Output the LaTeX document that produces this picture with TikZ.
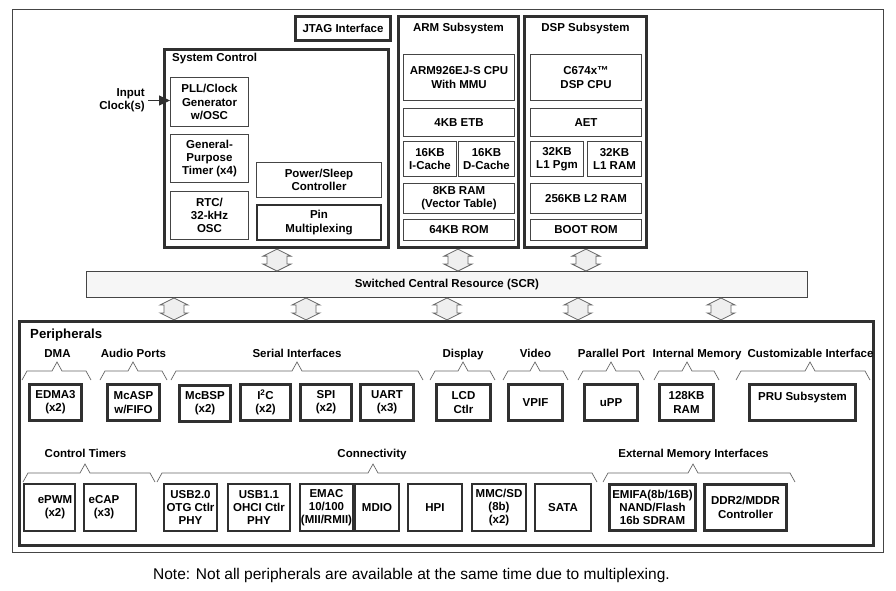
\documentclass[tikz,border=0pt]{standalone}
\usepackage{fontspec}
\setmainfont{Liberation Sans}
\usetikzlibrary{arrows.meta,calc}
\definecolor{edge}{HTML}{303030}
\definecolor{busfill}{HTML}{EFEFEF}
\definecolor{scrfill}{HTML}{F6F6F6}
\newcommand{\busarrow}[3]{%
  \path (#1,0 |- #2.south) coordinate (bt) (#1,0 |- #3.north) coordinate (bb);
  \draw[busarr] (bt) -- ++(14,7) -- ++(-4,0) -- ($(bb)+(10,-7)$) -- ++(4,0) -- (bb)
    -- ++(-14,-7) -- ++(4,0) -- ($(bt)+(-10,7)$) -- ++(-4,0) -- cycle;}
\newcommand{\grpbrace}[4]{%
  \draw[brace] (#1,#4+9) -- (#1+5,#4) -- (#2-5,#4) -- (#2,#4-9) -- (#2+5,#4) -- (#3-5,#4) -- (#3,#4+9);}
\begin{document}
\begin{tikzpicture}[x=1pt,y=-1pt,
  every node/.style={font=\fontsize{11.5}{13.3}\selectfont\bfseries, inner sep=0pt, align=center},
  blk/.style={draw=edge!90, line width=0.9pt},
  mblk/.style={draw=edge, line width=2pt},
  hblk/.style={draw=edge, line width=2.6pt},
  grp/.style={draw=edge, line width=3.2pt},
  lbl/.style={anchor=base},
  busarr/.style={draw=black!60, fill=busfill, line width=0.8pt},
  brace/.style={draw=black!60, line width=0.7pt}]
\useasboundingbox (0,0) rectangle (896,590);
\node[blk, minimum width=871, minimum height=543] (frame) at (448,281){};

\node[grp, minimum width=95, minimum height=24] (jtag) at (343,28.5){JTAG Interface};

\node[grp, minimum width=224, minimum height=198] (sysctl) at (276.5,148.5){};
\node[anchor=base west] (sysctlt) at (172,61.5){System Control};
\node[blk, minimum width=78, minimum height=49] (pll) at (209.5,102){PLL/Clock\\Generator\\w/OSC};
\node[blk, minimum width=78, minimum height=48] (gpt) at (209.5,158.5){General-\\Purpose\\Timer (x4)};
\node[blk, minimum width=78, minimum height=48] (rtc) at (209.5,215.5){RTC/\\32-kHz\\OSC};
\node[blk, minimum width=125, minimum height=35] (psc) at (319,180){Power/Sleep\\Controller};
\node[mblk, minimum width=124, minimum height=35] (pinmux) at (319,222.5){Pin\\Multiplexing};
\node[anchor=east, align=right] (clk) at (145,100.5){Input\\Clock(s)};
\draw[edge, line width=1pt, -{Triangle[length=11pt,width=10pt]}, shorten <=3pt] (clk.east) -- (clk.east -| pll.west);

\node[grp, minimum width=120, minimum height=231] (arm) at (458.5,132){};
\node[lbl] (armt) at (458.5,31.5){ARM Subsystem};
\node[blk, minimum width=111, minimum height=46] (armcpu) at (459,77.5){ARM926EJ-S CPU\\With MMU};
\node[blk, minimum width=111, minimum height=28] (etb) at (459,122.5){4KB ETB};
\node[blk, minimum width=53, minimum height=35] (icache) at (430,159){16KB\\I-Cache};
\node[blk, minimum width=56, minimum height=35] (dcache) at (486.5,159){16KB\\D-Cache};
\node[blk, minimum width=111, minimum height=30] (vram) at (459,198.5){8KB RAM\\(Vector Table)};
\node[blk, minimum width=111, minimum height=21] (arom) at (459,230){64KB ROM};

\node[grp, minimum width=122, minimum height=231] (dsp) at (585.5,132){};
\node[lbl] (dspt) at (585.5,31.5){DSP Subsystem};
\node[blk, minimum width=111, minimum height=46] (dspcpu) at (586,77.5){C674x™\\DSP CPU};
\node[blk, minimum width=111, minimum height=28] (aet) at (586,122.5){AET};
\node[blk, minimum width=53, minimum height=35] (lpgm) at (557,159){32KB\\L1 Pgm};
\node[blk, minimum width=54, minimum height=35] (lram) at (614.5,159){32KB\\L1 RAM};
\node[blk, minimum width=111, minimum height=30] (ltwo) at (586,198.5){256KB L2 RAM};
\node[blk, minimum width=111, minimum height=21] (brom) at (586,230){BOOT ROM};

\node[blk, fill=scrfill, minimum width=721, minimum height=26] (scr) at (447,284.5){Switched Central Resource (SCR)};

\node[grp, minimum width=854, minimum height=224] (periph) at (446.5,433.5){};
\node[anchor=base west, font=\fontsize{13.2}{15}\selectfont\bfseries] (periphl) at (30,338.5){Peripherals};

\busarrow{277}{sysctl}{scr}
\busarrow{458}{arm}{scr}
\busarrow{586}{dsp}{scr}
\foreach \x in {174,306,447,578,721}
  \busarrow{\x}{scr}{periph};

\node[lbl] (dmal) at (57.5,357.5){DMA};
\node[lbl] (audl) at (133.5,357.5){Audio Ports};
\node[lbl] (serl) at (297,357.5){Serial Interfaces};
\node[lbl] (displ) at (463,357.5){Display};
\node[lbl] (vidl) at (535.5,357.5){Video};
\node[lbl] (parl) at (611.5,357.5){Parallel Port};
\node[lbl] (meml) at (697,357.5){Internal Memory};
\node[lbl] (cusl) at (810.5,357.5){Customizable Interface};
\grpbrace{22}{57}{91}{371}
\grpbrace{100}{133}{167}{371}
\grpbrace{171}{297}{423}{371}
\grpbrace{430}{463}{495}{371}
\grpbrace{503}{535}{568}{371}
\grpbrace{578}{611}{644}{371}
\grpbrace{654}{687}{719}{371}
\grpbrace{736}{810}{870}{371}

\node[hblk, minimum width=52, minimum height=36] (edma) at (55.5,402.5){EDMA3\\(x2)};
\node[hblk, minimum width=52, minimum height=36] (mcasp) at (133.5,402.5){McASP\\w/FIFO};
\node[hblk, minimum width=51, minimum height=36] (mcbsp) at (205,403.5){McBSP\\(x2)};
\node[hblk, minimum width=50, minimum height=36] (iic) at (265.5,402.5){I\textsuperscript{2}C\\(x2)};
\node[hblk, minimum width=51, minimum height=36] (spi) at (326,402.5){SPI\\(x2)};
\node[hblk, minimum width=53, minimum height=36] (uart) at (387,402.5){UART\\(x3)};
\node[hblk, minimum width=54, minimum height=36] (lcd) at (463.5,402.5){LCD\\Ctlr};
\node[hblk, minimum width=54, minimum height=36] (vpif) at (535.5,402.5){VPIF};
\node[hblk, minimum width=53, minimum height=36] (upp) at (611,402.5){uPP};
\node[hblk, minimum width=54, minimum height=36] (iram) at (686.5,402.5){128KB\\RAM};
\node[hblk, minimum width=106, minimum height=36] (pru) at (802.5,402.5){PRU Subsystem\\\mbox{}};

\node[lbl] (timl) at (85.5,457){Control Timers};
\node[lbl] (conl) at (372,457){Connectivity};
\node[lbl] (extl) at (693.5,457){External Memory Interfaces};
\grpbrace{23}{85}{155}{473}
\grpbrace{157}{373}{597}{473}
\grpbrace{603}{693}{795}{473}

\node[mblk, minimum width=51, minimum height=47] (epwm) at (49.5,507.5){};
\node (epwmt) at (55,507){ePWM\\(x2)};
\node[mblk, minimum width=52, minimum height=47] (ecap) at (110,507.5){};
\node (ecapt) at (104,507){eCAP\\(x3)};
\node[mblk, minimum width=53, minimum height=47] (usbtwo) at (190.5,507.5){USB2.0\\OTG Ctlr\\PHY};
\node[mblk, minimum width=62, minimum height=47] (usbone) at (259,507.5){USB1.1\\OHCI Ctlr\\PHY};
\node[mblk, minimum width=53, minimum height=47] (emac) at (326.5,507.5){EMAC\\10/100\\(MII/RMII)};
\node[hblk, minimum width=44, minimum height=47] (mdio) at (377,507.5){MDIO};
\node[mblk, minimum width=54, minimum height=47] (hpi) at (435,507.5){HPI};
\node[mblk, minimum width=54, minimum height=47] (mmc) at (499,507.5){MMC/SD\\(8b)\\(x2)};
\node[mblk, minimum width=56, minimum height=47] (sata) at (563,507.5){SATA};
\node[grp, minimum width=86, minimum height=46] (emifa) at (652.5,507.5){EMIFA(8b/16B)\\NAND/Flash\\16b SDRAM};
\node[grp, minimum width=82, minimum height=46] (ddr) at (745.5,507.5){DDR2/MDDR\\Controller};

\node[lbl, font=\fontsize{15.5}{18}\selectfont] (note) at (411.5,579){Note: Not all peripherals are available at the same time due to multiplexing.};
\end{tikzpicture}
\end{document}
